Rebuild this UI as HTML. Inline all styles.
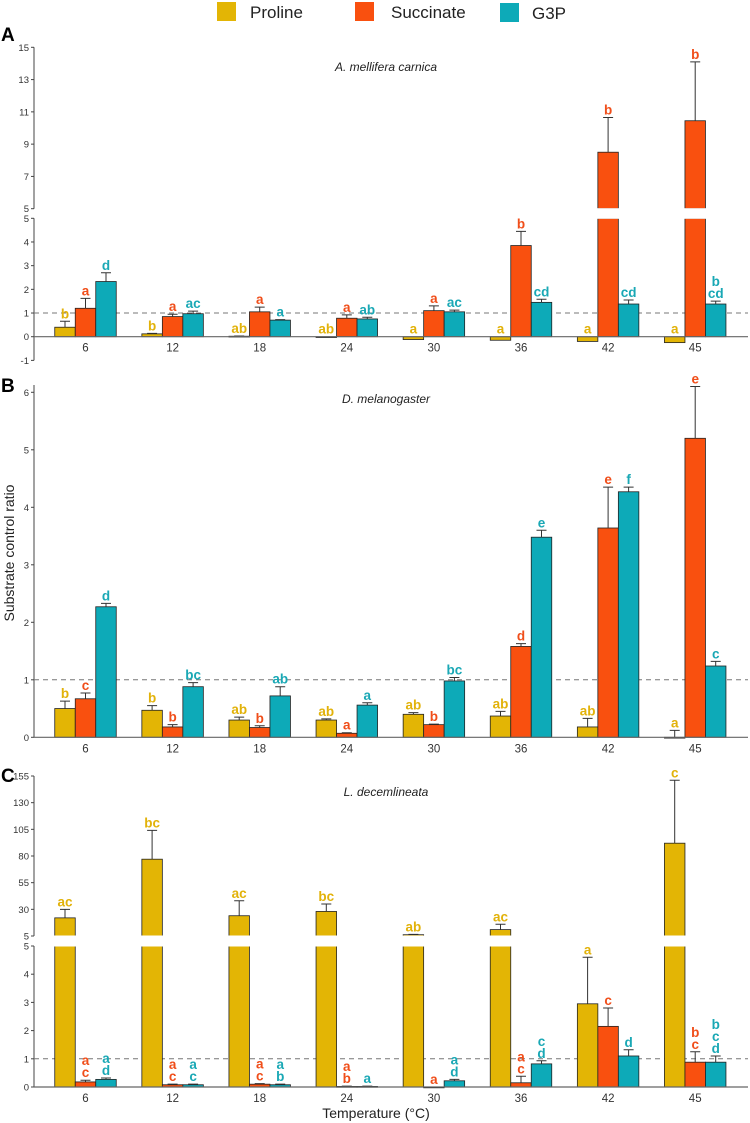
<!DOCTYPE html>
<html><head><meta charset="utf-8">
<style>
html,body{margin:0;padding:0;background:#fff;}
svg{display:block;font-family:"Liberation Sans",sans-serif;}
</style></head>
<body>
<svg id="chart" width="750" height="1123" viewBox="0 0 750 1123" xmlns="http://www.w3.org/2000/svg">
  <g>
    <rect x="217" y="2" width="19" height="19" fill="#E3B505"/>
    <text x="250" y="18" font-size="17" fill="#222">Proline</text>
    <rect x="355" y="2" width="19" height="19" fill="#F9500F"/>
    <text x="391" y="18" font-size="17" fill="#222">Succinate</text>
    <rect x="500" y="3" width="19" height="19" fill="#0DAAB8"/>
    <text x="532" y="19" font-size="17" fill="#222">G3P</text>
  </g>
  <text x="1" y="41" font-size="19" font-weight="bold" fill="#000">A</text>
  <text x="1" y="392" font-size="19" font-weight="bold" fill="#000">B</text>
  <text x="1" y="782" font-size="19" font-weight="bold" fill="#000">C</text>
  <text x="386" y="71" font-size="12" font-style="italic" text-anchor="middle" fill="#222">A. mellifera carnica</text>
  <text x="386" y="403" font-size="12" font-style="italic" text-anchor="middle" fill="#222">D. melanogaster</text>
  <text x="386" y="796" font-size="12" font-style="italic" text-anchor="middle" fill="#222">L. decemlineata</text>
  <text transform="translate(14,553) rotate(-90)" font-size="14" text-anchor="middle" fill="#222">Substrate control ratio</text>
  <text x="376" y="1118" font-size="14" text-anchor="middle" fill="#222">Temperature (°C)</text>
</svg>
<script>
const categories = ["6","12","18","24","30","36","42","45"];
// Panel A (A. mellifera carnica)
const aProline = [0.4, 0.12, 0.02, -0.02, -0.12, -0.15, -0.2, -0.25];
const aProlineErr = [0.65, 0.14, 0.03, -0.02, -0.12, -0.15, -0.2, -0.25];
const aSuccinate = [1.2, 0.85, 1.05, 0.78, 1.1, 3.85, 8.5, 10.45];
const aSuccinateErr = [1.62, 0.95, 1.25, 0.92, 1.3, 4.45, 10.65, 14.1];
const aG3P = [2.33, 0.97, 0.7, 0.75, 1.05, 1.45, 1.38, 1.38];
const aG3PErr = [2.7, 1.08, 0.72, 0.82, 1.12, 1.58, 1.55, 1.5];
const aLetters = [["b","a","d"],["b","a","ac"],["ab","a","a"],["ab","a","ab"],["a","a","ac"],["a","b","cd"],["a","b","cd"],["a","b","b|cd"]];
// Panel B (D. melanogaster)
const bProline = [0.5, 0.47, 0.3, 0.3, 0.4, 0.37, 0.18, 0.0];
const bProlineErr = [0.63, 0.55, 0.35, 0.32, 0.43, 0.45, 0.33, 0.12];
const bSuccinate = [0.67, 0.18, 0.17, 0.07, 0.22, 1.58, 3.64, 5.2];
const bSuccinateErr = [0.77, 0.22, 0.2, 0.08, 0.23, 1.63, 4.35, 6.1];
const bG3P = [2.27, 0.88, 0.72, 0.56, 0.98, 3.48, 4.27, 1.24];
const bG3PErr = [2.33, 0.95, 0.88, 0.6, 1.04, 3.6, 4.35, 1.32];
const bLetters = [["b","c","d"],["b","b","bc"],["ab","b","ab"],["ab","a","a"],["ab","b","bc"],["ab","d","e"],["ab","e","f"],["a","e","c"]];
// Panel C (L. decemlineata)
const cProline = [22, 77, 24, 28, 6.2, 11, 2.95, 92];
const cProlineErr = [30, 104, 38, 35, 6.5, 16, 4.6, 151];
const cSuccinate = [0.18, 0.08, 0.1, 0.02, 0.0, 0.15, 2.15, 0.88];
const cSuccinateErr = [0.24, 0.1, 0.12, 0.03, 0.0, 0.38, 2.8, 1.25];
const cG3P = [0.27, 0.08, 0.08, 0.02, 0.22, 0.82, 1.1, 0.88];
const cG3PErr = [0.32, 0.1, 0.1, 0.03, 0.27, 0.93, 1.32, 1.1];
const cLetters = [["ac","a|c","a|d"],["bc","a|c","a|c"],["ac","a|c","a|b"],["bc","a|b","a"],["ab","a","a|d"],["ac","a|c","c|d"],["a","c","d"],["c","b|c","b|c|d"]];
const aTicksLow = [-1,0,1,2,3,4,5];
const aTicksHigh = [5,7,9,11,13,15];
const bTicks = [0,1,2,3,4,5,6];
const cTicksLow = [0,1,2,3,4,5];
const cTicksHigh = [5,30,55,80,105,130,155];
const seriesNames = ["proline","succinate","g3p"];
</script>
<script>
const NS = "http://www.w3.org/2000/svg";
const svg = document.getElementById("chart");
const fills = ["#E3B505","#F9500F","#0DAAB8"];
const txtCol = ["#E2B20A","#F04E1A","#1AA8B5"];
function mk(tag, attrs, parent){ const e=document.createElementNS(NS,tag); for(const k in attrs) e.setAttribute(k,attrs[k]); (parent||svg).appendChild(e); return e; }
function linScale(d0,d1,r0,r1){ return v => r0 + (v-d0)*(r1-r0)/(d1-d0); }
const xC = i => 85.5 + i*87.1;
const BW = 20.5;
const X0 = 34, X1 = 748;

function drawPanel(p){
  const g = mk("g",{});
  
  
  const yl = linScale(p.low[0], p.low[1], p.lowR[0], p.lowR[1]);
  const yh = p.high ? linScale(p.high[0], p.high[1], p.highR[0], p.highR[1]) : null;
  const brk = p.high ? p.low[1] : Infinity;
  const Y = v => v > brk ? yh(v) : yl(v);
  const sp = mk("line",{x1:X0,x2:X0,y1:yl(p.ticksLow[0]),y2:p.high?yl(p.low[1]):p.spineTop,stroke:"#444","stroke-width":1},g);
  
  
  if(p.high){
    const sp2 = mk("line",{x1:X0,x2:X0,y1:yh(p.high[0]),y2:yh(p.high[1]),stroke:"#444","stroke-width":1},g);
    
    
  }
  const tick = (t,y) => {
    mk("line",{x1:X0-3,x2:X0,y1:y,y2:y,stroke:"#444"},g);
    const tt = mk("text",{x:X0-5,y:y+3.5,"font-size":9.5,"text-anchor":"end",fill:"#333"},g);
    tt.textContent = t;
    
    
  };
  p.ticksLow.forEach(t => tick(t, yl(t)));
  if(p.high) p.ticksHigh.forEach(t => tick(t, yh(t)));
  const ref = mk("line",{x1:X0,x2:X1,y1:yl(1),y2:yl(1),stroke:"#777","stroke-dasharray":"5,4","stroke-width":1},g);
  
  
  categories.forEach((c,i) => {
    for(let s=0;s<3;s++){
      const v = p.vals[s][i], e = p.errs[s][i];
      const x = xC(i) + (s-1.5)*BW;
      const y0 = yl(0);
      let r;
      if(v > brk){
        r = mk("rect",{x:x,y:yl(brk),width:BW,height:y0-yl(brk),fill:fills[s],stroke:"#222","stroke-width":0.8},g);
        const r2 = mk("rect",{x:x,y:yh(v),width:BW,height:yh(brk)-yh(v),fill:fills[s],stroke:"#222","stroke-width":0.8},g);
        
        
        mk("rect",{x:x-1,y:yh(brk)-0.5,width:BW+2,height:yl(brk)-yh(brk)+1,fill:"#fff"},g);
      } else {
        const top = Math.min(Y(v), y0), h = Math.abs(Y(v)-y0);
        r = mk("rect",{x:x,y:top,width:BW,height:Math.max(h,0.8),fill:fills[s],stroke:"#222","stroke-width":0.8},g);
      }
      
      
      if(e > v){
        const eb = mk("path",{d:`M${x+BW/2},${Y(v)}V${Y(e)}M${x+BW/2-5},${Y(e)}h10`,stroke:"#333","stroke-width":1,fill:"none"},g);
        
        
      }
      const lines = p.letters[i][s].split("|");
      const base = Math.min(Y(Math.max(e,v,0)), y0) - 3;
      lines.forEach((ln,k) => {
        const t = mk("text",{x:x+BW/2,y:base-(lines.length-1-k)*12,"font-size":13.5,"font-weight":"bold","text-anchor":"middle",fill:txtCol[s]},g);
        t.textContent = ln;
        
        
      });
    }
    const xt = mk("text",{x:xC(i),y:yl(0)+15,"font-size":11.5,"text-anchor":"middle",fill:"#333"},g);
    xt.textContent = c;
    
    
  });
  const ax = mk("line",{x1:X0,x2:X1,y1:yl(0),y2:yl(0),stroke:"#666","stroke-width":1.2},g);
  
  
}

drawPanel({id:"a", low:[0,5], lowR:[336.7,218.3], high:[5,15], highR:[208.7,47.3],
  ticksLow:aTicksLow, ticksHigh:aTicksHigh,
  vals:[aProline,aSuccinate,aG3P], errs:[aProlineErr,aSuccinateErr,aG3PErr], letters:aLetters});
drawPanel({id:"b", low:[0,6], lowR:[737.3,392.3], spineTop:385,
  ticksLow:bTicks, vals:[bProline,bSuccinate,bG3P], errs:[bProlineErr,bSuccinateErr,bG3PErr], letters:bLetters});
drawPanel({id:"c", low:[0,5], lowR:[1087,946], high:[5,155], highR:[936,776],
  ticksLow:cTicksLow, ticksHigh:cTicksHigh,
  vals:[cProline,cSuccinate,cG3P], errs:[cProlineErr,cSuccinateErr,cG3PErr], letters:cLetters});
</script>
</body></html>
